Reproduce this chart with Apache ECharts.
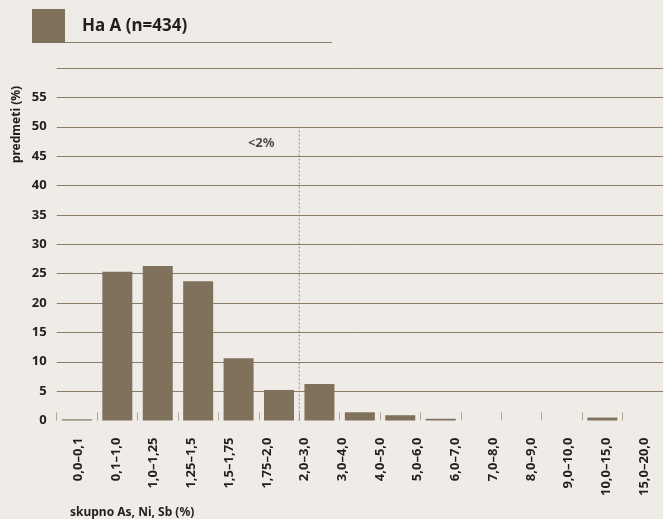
<!DOCTYPE html>
<html>
<head>
<meta charset="utf-8">
<script src="https://cdn.jsdelivr.net/npm/echarts@6/dist/echarts.min.js"></script>
<style>
  html, body { margin: 0; padding: 0; background: #efece7; }
  #chart { width: 663px; height: 519px; }
</style>
</head>
<body>
<div id="chart"></div>
<script>
// Bin labels along the horizontal axis (total As + Ni + Sb, %)
const binLabels = ['0,0–0,1', '0,1–1,0', '1,0–1,25', '1,25–1,5', '1,5–1,75', '1,75–2,0',
  '2,0–3,0', '3,0–4,0', '4,0–5,0', '5,0–6,0', '6,0–7,0', '7,0–8,0', '8,0–9,0',
  '9,0–10,0', '10,0–15,0', '15,0–20,0'];

// Share of objects per bar slot (%)
const shares = [0.2, 25.3, 26.3, 23.7, 10.6, 5.2, 6.2, 1.4, 0.9, 0.3, 0, 0, 0, 0.5, 0];

// Labelled ticks of the vertical axis
const yTicks = [0, 5, 10, 15, 20, 25, 30, 35, 40, 45, 50, 55];

const seriesName = 'Ha A (n=434)';
const yAxisTitle = 'predmeti (%)';
const xAxisTitle = 'skupno As, Ni, Sb (%)';

// Threshold marker: slot boundary, height, and its caption anchor
const limitLabel = '<2%';
const limitLine = [[6, 0], [6, 50]];
const limitCaption = [[5.06, 47.2]];

const BAR = '#7f715b';
const RULE = '#8b7c67';
const INK = '#1f1f1f';
const FONT = '"Noto Sans", sans-serif';

const chart = echarts.init(document.getElementById('chart'), null, { renderer: 'canvas' });

chart.setOption({
  backgroundColor: '#efece7',
  animation: false,
  textStyle: { fontFamily: FONT },
  legend: {
    data: [seriesName],
    left: 32,
    top: 9,
    padding: 0,
    icon: 'rect',
    itemWidth: 33,
    itemHeight: 34,
    selectedMode: false,
    textStyle: { fontFamily: FONT, fontSize: 17, fontWeight: 'bold', color: INK, padding: [0, 0, 0, 12] }
  },
  grid: [
    { left: 56.7, top: 68, width: 608.2, height: 352.5 },
    { left: 59.3, top: 68, width: 608, height: 352.5 }
  ],
  xAxis: [
    {
      gridIndex: 0,
      type: 'category',
      data: shares.map((_, i) => i),
      boundaryGap: true,
      axisLine: { show: false },
      axisTick: { show: true, inside: true, length: 8, interval: 0, lineStyle: { color: '#b0a696', width: 1 } },
      axisLabel: { show: false },
      splitLine: { show: false }
    },
    {
      gridIndex: 0,
      type: 'value',
      min: 0,
      max: 15,
      show: false
    },
    {
      gridIndex: 1,
      type: 'category',
      data: binLabels,
      axisLine: { show: false },
      axisTick: { show: false },
      axisLabel: {
        interval: 0,
        rotate: 90,
        margin: 17,
        fontFamily: FONT,
        fontSize: 13,
        fontWeight: 'bold',
        color: INK
      }
    }
  ],
  yAxis: [
    {
      gridIndex: 0,
      type: 'value',
      min: 0,
      max: 60,
      interval: 5,
      axisLine: { show: false },
      axisTick: { show: false },
      axisLabel: {
        margin: 10,
        fontFamily: FONT,
        fontSize: 13,
        fontWeight: 'bold',
        color: INK,
        formatter: v => (yTicks.includes(v) ? String(v) : '')
      },
      splitLine: { show: true, showMinLine: false, lineStyle: { color: RULE, width: 1 } }
    },
    {
      gridIndex: 1,
      type: 'value',
      min: 0,
      max: 60,
      show: false
    }
  ],
  series: [
    {
      name: seriesName,
      type: 'bar',
      xAxisIndex: 0,
      yAxisIndex: 0,
      data: shares,
      barWidth: 30,
      itemStyle: { color: BAR },
      silent: true
    },
    {
      type: 'line',
      xAxisIndex: 1,
      yAxisIndex: 0,
      data: limitLine,
      symbol: 'none',
      silent: true,
      lineStyle: { color: '#8f8779', width: 1, type: [2, 2] },
      z: 1
    },
    {
      type: 'scatter',
      xAxisIndex: 1,
      yAxisIndex: 0,
      data: limitCaption,
      symbolSize: 1,
      itemStyle: { color: 'rgba(0,0,0,0)' },
      silent: true,
      label: {
        show: true,
        position: 'inside',
        formatter: limitLabel,
        fontFamily: FONT,
        fontSize: 13,
        fontWeight: 'bold',
        color: INK
      }
    }
  ],
  graphic: [
    {
      type: 'line',
      shape: { x1: 65, y1: 42.5, x2: 332, y2: 42.5 },
      style: { stroke: RULE, lineWidth: 1 },
      silent: true
    },
    {
      type: 'text',
      x: 17,
      y: 124.5,
      rotation: Math.PI / 2,
      style: {
        text: yAxisTitle,
        align: 'center',
        verticalAlign: 'middle',
        font: 'bold 12px ' + FONT,
        fill: INK
      },
      silent: true
    },
    {
      type: 'text',
      x: 70,
      y: 513,
      style: {
        text: xAxisTitle,
        align: 'left',
        verticalAlign: 'middle',
        font: 'bold 12px ' + FONT,
        fill: INK
      },
      silent: true
    }
  ]
});
</script>
</body>
</html>
